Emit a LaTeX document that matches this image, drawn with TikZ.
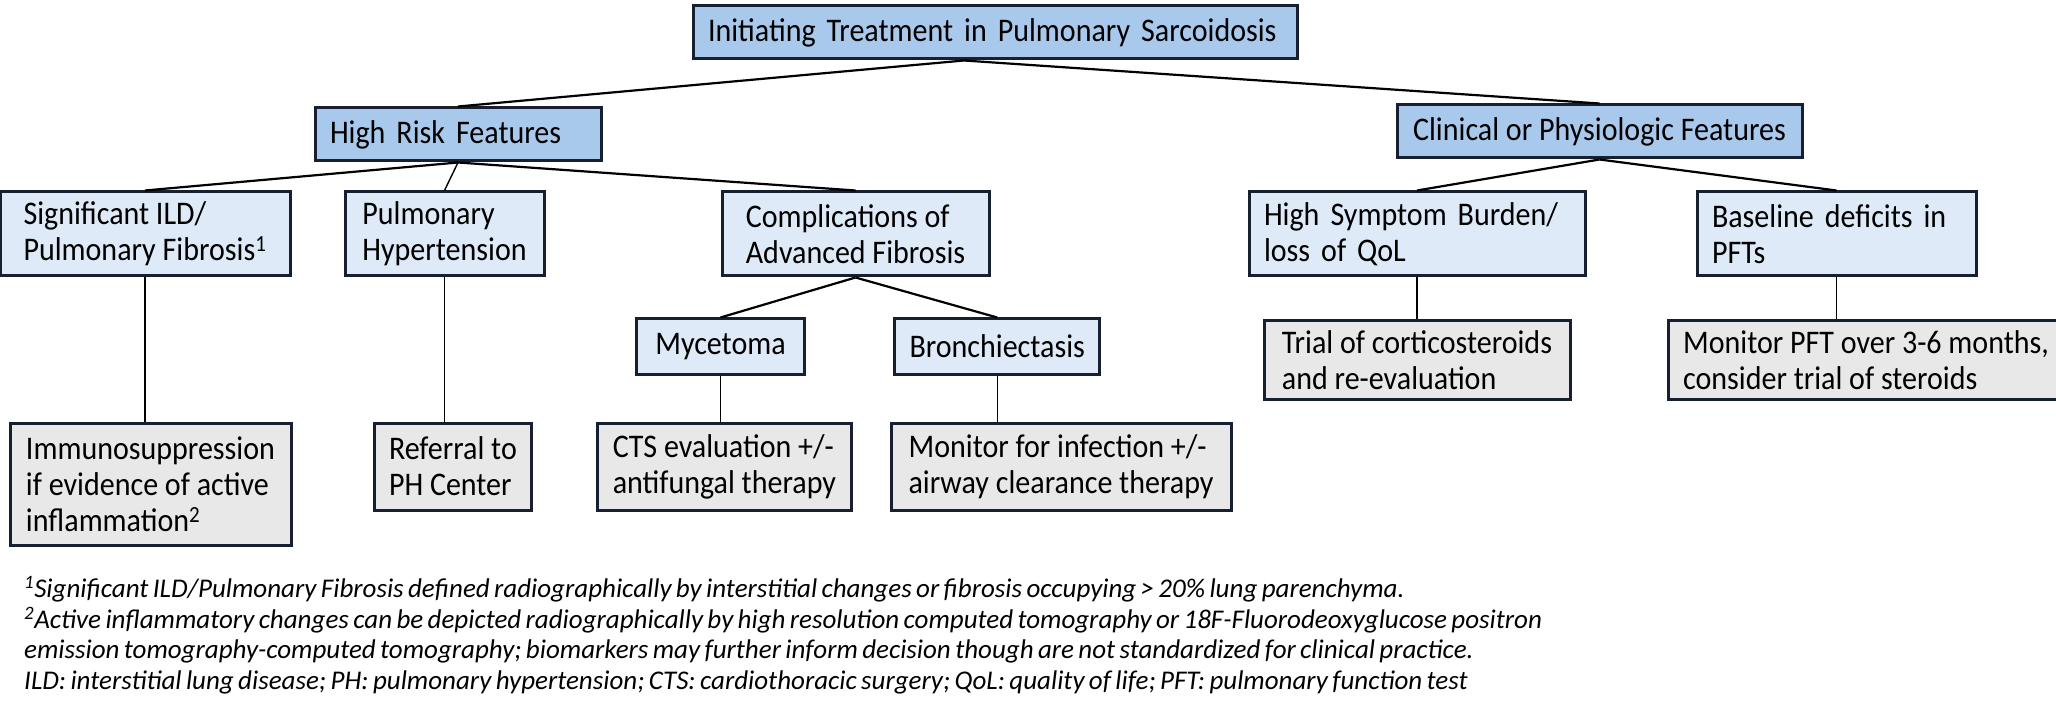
\documentclass[tikz,border=0pt]{standalone}
\usepackage{fontspec}
\setmainfont[FakeStretch=0.91]{Carlito}
\newfontfamily\notefont[WordSpace=0.72]{Carlito}
\usetikzlibrary{positioning}

\definecolor{headblue}{RGB}{168,201,235}
\definecolor{paleblue}{RGB}{222,234,247}
\definecolor{palegray}{RGB}{232,232,232}
\definecolor{edgenavy}{RGB}{22,32,48}

\begin{document}
\begin{tikzpicture}[
  x=1pt, y=-1pt,
  box/.style={draw=edgenavy, line width=3pt, align=left, inner xsep=15pt,
              inner ysep=4pt, font=\fontsize{33}{36}\selectfont},
  head/.style={box, fill=headblue, minimum height=53pt},
  feat/.style={box, fill=paleblue, minimum height=84pt},
  sub/.style={box, fill=paleblue, minimum height=55pt},
  act/.style={box, fill=palegray},
  link/.style={line width=2.2pt},
  stem/.style={line width=1.4pt},
  note/.style={align=left, inner sep=0pt,
               font=\notefont\fontsize{27}{30.5}\selectfont\itshape}
]
  \useasboundingbox (0,0) rectangle (2056,703);

  % header row
  \node[head, text width=574pt, anchor=north west] (top) at (691.5,4.5)
    {Initiating Treatment in Pulmonary Sarcoidosis};
  \node[head, text width=256pt, below left=46pt and 89pt of top.south west] (hrf)
    {High Risk Features};
  \node[head, minimum width=405pt, below right=43pt and 97pt of top.south east] (clin)
    {Clinical or Physiologic Features};

  % features
  \node[feat, minimum width=290pt, below left=28pt and 22pt of hrf.south west] (ild)
    {Significant ILD/\\Pulmonary Fibrosis\textsuperscript{1}};
  \node[feat, minimum width=199pt, right=52pt of ild] (ph) {Pulmonary\\Hypertension};
  \node[feat, minimum width=267pt, right=175pt of ph] (cmp) {Complications of\\Advanced Fibrosis};
  \node[feat, text width=306pt, right=257pt of cmp] (hs) {High Symptom Burden/\\loss of QoL};
  \node[feat, text width=249pt, right=109pt of hs] (base) {Baseline deficits in\\PFTs};

  \node[sub, minimum width=168pt, below left=40pt and 49.5pt of cmp.south] (myc) {Mycetoma};
  \node[sub, minimum width=205pt, right=87pt of myc] (bron) {Bronchiectasis};

  % actions
  \node[act, minimum width=306pt, minimum height=78pt, below=42pt of hs] (trial)
    {Trial of corticosteroids\\and re-evaluation};
  \node[act, minimum width=396pt, minimum height=78pt, right=95pt of trial] (pft)
    {Monitor PFT over 3-6 months,\\consider trial of steroids};
  \node[act, minimum width=281pt, minimum height=122pt,
        below right=144pt and 10pt of ild.south west] (imm)
    {Immunosuppression\\if evidence of active\\inflammation\textsuperscript{2}};
  \node[act, minimum width=154pt, minimum height=87pt,
        right=80pt of imm.north east, anchor=north west] (ref) {Referral to\\PH Center};
  \node[act, minimum width=239pt, minimum height=87pt, right=63pt of ref] (cts)
    {CTS evaluation +/-\\antifungal therapy};
  \node[act, minimum width=340pt, minimum height=87pt, right=37pt of cts] (inf)
    {Monitor for infection +/-\\airway clearance therapy};

  % footnotes
  \node[note, below right=30pt and 15.5pt of imm.south west] (notes)
    {\textsuperscript{1}Significant ILD/Pulmonary Fibrosis defined radiographically by interstitial changes or fibrosis occupying > 20\% lung parenchyma.\\
     \textsuperscript{2}Active inflammatory changes can be depicted radiographically by high resolution computed tomography or 18F-Fluorodeoxyglucose positron\\
     emission tomography-computed tomography; biomarkers may further inform decision though are not standardized for clinical practice.\\
     ILD: interstitial lung disease; PH: pulmonary hypertension; CTS: cardiothoracic surgery; QoL: quality of life; PFT: pulmonary function test};

  \draw[link] ([xshift=-31pt]top.south) -- (hrf.north);
  \draw[link] ([xshift=-31pt]top.south) -- (clin.north);
  \draw[link] (hrf.south) -- (ild.north);
  \draw[stem] (hrf.south) -- (ph.north);
  \draw[link] (hrf.south) -- (cmp.north);
  \draw[link] (cmp.south) -- (myc.north);
  \draw[link] (cmp.south) -- (bron.north);
  \draw[link] (clin.south) -- (hs.north);
  \draw[link] (clin.south) -- (base.north);
  \draw[stem] (ild) -- (ild |- imm.north);
  \draw[stem] (ph) -- (ph |- ref.north);
  \draw[stem] (myc) -- (myc |- cts.north);
  \draw[stem] (bron) -- (bron |- inf.north);
  \draw[stem] (hs) -- (hs |- trial.north);
  \draw[stem] (base) -- (base |- pft.north);
\end{tikzpicture}
\end{document}
